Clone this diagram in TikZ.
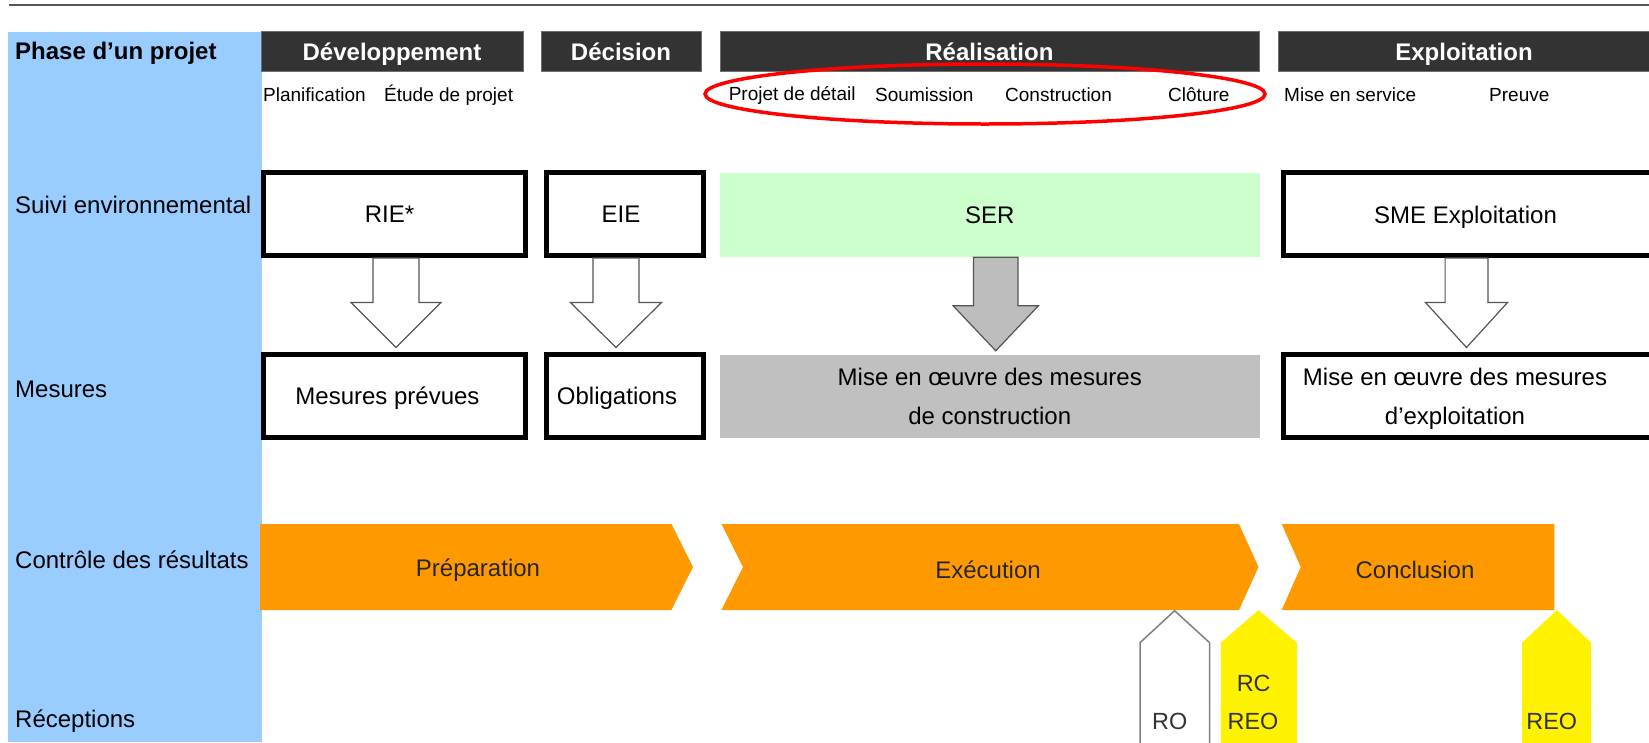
\documentclass[tikz,border=0pt]{standalone}
\usepackage{fontspec}
\setmainfont{Liberation Sans}
\usetikzlibrary{calc}
\definecolor{hdr}{HTML}{333333}
\definecolor{hdrline}{HTML}{6E6E6E}
\definecolor{bluecol}{HTML}{99CCFF}
\definecolor{greenbox}{HTML}{CCFFCC}
\definecolor{greybox}{HTML}{C0C0C0}
\definecolor{arrowgrey}{HTML}{BDBDBD}
\definecolor{orng}{HTML}{FF9900}
\definecolor{yel}{HTML}{FFF200}
\definecolor{edgegrey}{HTML}{555555}
\newcommand\myarrow[6]{%
 \draw[#1] let \p1=($(#2.south)+(#4,0)$), \p2=($(#3.north)+(#4,-4)$) in
 (\x1-#5pt,\y1) -- (\x1-#5pt,\y2+45pt) -- (\x1-#6pt,\y2+45pt) -- (\x1,\y2)
 -- (\x1+#6pt,\y2+45pt) -- (\x1+#5pt,\y2+45pt) -- (\x1+#5pt,\y1) -- cycle;}
\tikzset{
 hdrbox/.style={fill=hdr, draw=hdrline, line width=0.8pt, text=white, font=\bfseries\fontsize{24}{28}\selectfont, minimum height=40pt, inner sep=0pt, text height=17.2pt, text depth=0pt},
 sub/.style={anchor=west, inner sep=0pt, font=\fontsize{19}{23}\selectfont},
 rowlbl/.style={anchor=west, inner sep=0pt, font=\fontsize{24}{28}\selectfont},
 thickbox/.style={draw=black, line width=5pt, fill=white, minimum height=83pt, inner sep=0pt, font=\fontsize{24}{28}\selectfont, text height=17.2pt, text depth=0pt},
 flatbox/.style={minimum height=84pt, inner sep=0pt, font=\fontsize{24}{28}\selectfont},
 txt/.style={inner sep=0pt, font=\fontsize{24}{28}\selectfont, text height=17.2pt, text depth=0pt},
 twoline/.style={inner sep=0pt, align=center, font=\fontsize{24}{39}\selectfont},
 hollowarrow/.style={draw=edgegrey, line width=1.2pt, fill=white},
 greyarrow/.style={draw=edgegrey, line width=1.2pt, fill=arrowgrey},
 chev/.style={fill=orng},
 chevtxt/.style={inner sep=0pt, font=\fontsize{24}{28}\selectfont, text=black!85},
 markerw/.style={fill=white, draw=gray, line width=1.5pt},
 markery/.style={fill=yel},
 mtxt/.style={font=\fontsize{23.4}{28}\selectfont, text=black!80, inner sep=0pt},
}
\begin{document}
\begin{tikzpicture}[x=1pt,y=-1pt]
\useasboundingbox (0,0) rectangle (1649,742);
\clip (0,0) rectangle (1649,742);
\fill[white] (0,0) rectangle (1649,742);

% top rule and phase column
\draw[edgegrey, line width=2pt] (9,5) -- (1649,5);
\fill[bluecol] (8.4,31.5) rectangle (261.5,742);

% row labels
\node[rowlbl, font=\bfseries\fontsize{24}{28}\selectfont] (lphase) at (15,53) {Phase d’un projet};
\node[rowlbl] (lsuivi) at (15,205) {Suivi environnemental};
\node[rowlbl] (lmes) at (15,389) {Mesures};
\node[rowlbl] (lctrl) at (15,560) {Contrôle des résultats};
\node[rowlbl] (lrec) at (15,721.5) {Réceptions};

% phase headers
\node[hdrbox, minimum width=262pt] (hdev) at (392,51.5) {Développement};
\node[hdrbox, minimum width=160pt] (hdec) at (621,51.5) {Décision};
\node[hdrbox, minimum width=539pt] (hrea) at (989.4,51.5) {Réalisation};
\node[hdrbox, minimum width=372pt] (hexp) at (1464,51.5) {Exploitation};

% sub-phases
\node[sub] (s1) at (263,95) {Planification};
\node[sub] (s2) at (384,95) {Étude de projet};
\node[sub] (s3) at (728.6,95) {Projet de détail};
\node[sub] (s4) at (875,95) {Soumission};
\node[sub] (s5) at (1005,95) {Construction};
\node[sub] (s6) at (1168,95) {Clôture};
\node[sub] (s7) at (1284,95) {Mise en service};
\node[sub] (s8) at (1489,95) {Preuve};
\draw[red, line width=3.5pt] (985,94) ellipse [x radius=280, y radius=30];

% row 1: suivi environnemental
\node[thickbox, minimum width=262pt] (rie) at (394.5,214) {\hspace*{-10pt}RIE*};
\node[thickbox, minimum width=157pt] (eie) at (625,214) {\hspace*{-8pt}EIE};
\node[flatbox, fill=greenbox, minimum width=539.5pt, text height=17.2pt, text depth=0pt] (ser) at (989.75,215) {SER};
\node[thickbox, minimum width=380pt] (sme) at (1473.2,214) {};
\node[txt] (smetxt) at (1465.5,215) {SME Exploitation};

% row 2: mesures
\node[thickbox, minimum width=262pt] (mp) at (394.5,395.5) {\hspace*{-14pt}Mesures prévues};
\node[thickbox, minimum width=157pt] (obl) at (625,395.5) {\hspace*{-16pt}Obligations};
\node[flatbox, fill=greybox, minimum width=539.5pt, minimum height=83pt, align=center, font=\fontsize{24}{39}\selectfont] (grey) at (989.75,396.5) {Mise en œuvre des mesures\\de construction};
\node[thickbox, minimum width=380pt] (meo) at (1473.2,395.5) {};
\node[twoline] (meotxt) at (1455,398.5) {Mise en œuvre des mesures\\d’exploitation};

% block arrows
\myarrow{hollowarrow}{rie}{mp}{1.5}{23}{45}
\myarrow{hollowarrow}{eie}{obl}{-9}{23}{45.5}
\myarrow{greyarrow}{ser}{grey}{6}{22.3}{42.6}
\myarrow{hollowarrow}{sme}{meo}{-6.7}{21.4}{41}

% chevrons
\fill[chev] (260,524) -- (671.4,524) -- (693,567) -- (671.4,610) -- (260,610) -- cycle;
\fill[chev] (721.4,524) -- (1239,524) -- (1258.5,567) -- (1239,610) -- (721.4,610) -- (743,567) -- cycle;
\fill[chev] (1281.7,524) -- (1554.3,524) -- (1554.3,610) -- (1281.7,610) -- (1300.7,567) -- cycle;
\node[chevtxt] (prep) at (478,570) {Préparation};
\node[chevtxt] (exec) at (988,570) {Exécution};
\node[chevtxt] (concl) at (1415,570) {Conclusion};

% receptions
\draw[markerw] (1140,760) -- (1140,642.7) -- (1174.6,610.7) -- (1209.6,642.7) -- (1209.6,760);
\fill[markery] (1220.8,760) -- (1220.8,642.7) -- (1258.6,610) -- (1296.8,642.7) -- (1296.8,760) -- cycle;
\fill[markery] (1522,760) -- (1522,642.7) -- (1557,610) -- (1591,642.7) -- (1591,760) -- cycle;
\node[mtxt] (ro) at (1169.7,721) {RO};
\node[mtxt] (rc) at (1253.7,683.5) {RC};
\node[mtxt] (reo1) at (1253,721.3) {REO};
\node[mtxt] (reo2) at (1551.7,721) {REO};
\end{tikzpicture}
\end{document}
